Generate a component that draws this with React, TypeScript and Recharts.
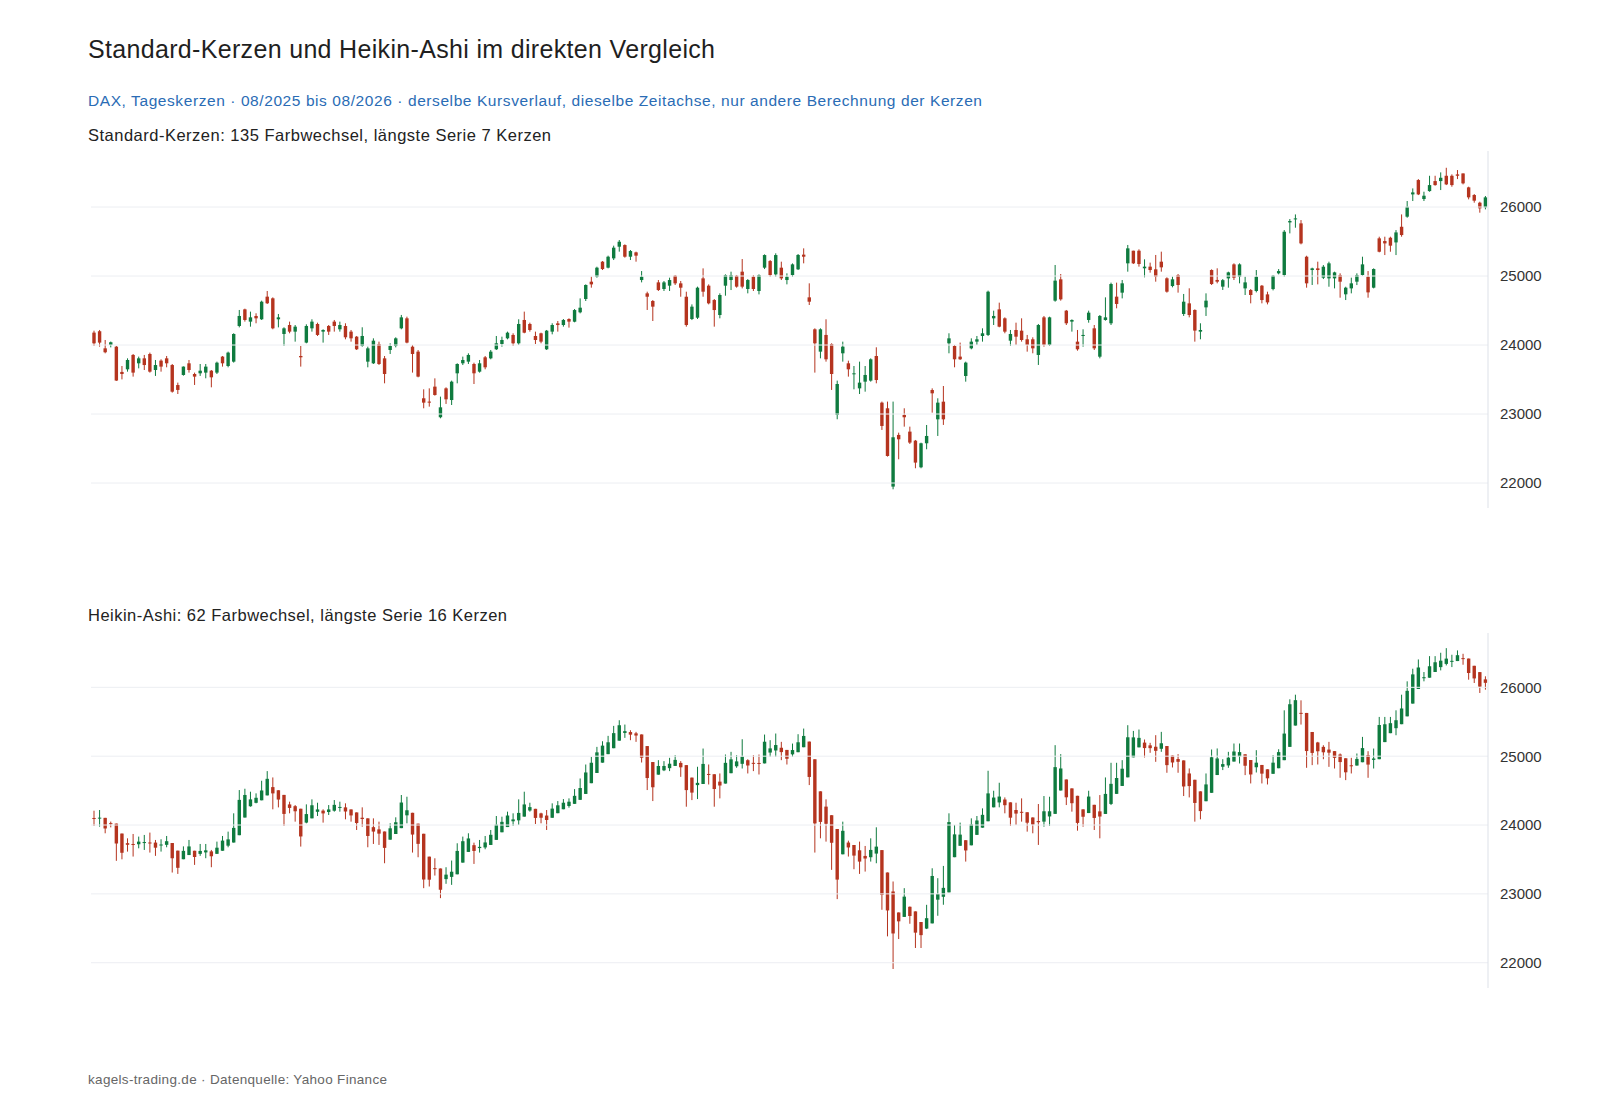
import React from "react";
import { ComposedChart, Bar, XAxis, YAxis, ReferenceLine } from "recharts";

// DAX daily candles, 08/2025 - 08/2026
const OPEN = [
  24180, 24200, 23952, 24001, 23976, 23610, 23648, 23856, 23735, 23807, 23870, 23638, 23774, 23807, 23710, 23420, 23566, 23735, 23580, 23590,
  23600, 23628, 23600, 23832, 23696, 23759, 24276, 24517, 24339, 24421, 24373, 24701, 24677, 24373, 24160, 24290, 24194, 23841, 24035, 24242,
  24305, 24194, 24276, 24339, 24228, 24276, 24194, 24121, 23986, 23759, 23735, 24015, 23807, 23928, 23986, 24242, 24387, 23976, 23904, 23228,
  23180, 23397, 22953, 23372, 23203, 23590, 23735, 23759, 23725, 23614, 23822, 23807, 23938, 24015, 24097, 24146, 24025, 24363, 24305, 24131,
  24170, 23938, 24194, 24314, 24290, 24377, 24338, 24474, 24667, 24918, 24990, 25208, 25121, 25256, 25425, 25449, 25280, 25343, 24942, 24749,
  24638, 24908, 24812, 24860, 25005, 24894, 24700, 24377, 24396, 24966, 24860, 24652, 24435, 24860, 24942, 25005, 25063, 24812, 24990, 24783,
  25121, 25217, 25024, 25121, 24942, 25014, 25097, 25310, 24691, 24228, 23904, 24146, 24015, 22986, 23880, 23735, 23580, 23372, 23469, 23484,
  23841, 23165, 23083, 21948, 22697, 22987, 22745, 22614, 22228, 22576, 23348, 22923, 23179, 24025, 23986, 23832, 23551, 23952, 24049, 24131,
  24146, 24387, 24517, 24387, 24063, 24218, 24208, 24083, 24083, 23856, 24401, 24001, 24643, 24952, 24498, 24339, 24049, 24131, 24363, 24242,
  23831, 24363, 24315, 24701, 24759, 25184, 25367, 25367, 25112, 25136, 25097, 25208, 24967, 24855, 25015, 24450, 24604, 24508, 24194, 24546,
  25087, 24943, 24846, 24966, 25169, 24990, 24821, 24797, 24783, 24860, 24734, 24811, 25039, 25015, 25777, 25826, 25763, 25280, 25087, 25111,
  24976, 24966, 24966, 25015, 24735, 24821, 24918, 25015, 24990, 24831, 25546, 25507, 25555, 25487, 25714, 25860, 26183, 26391, 26116, 26231,
  26376, 26376, 26453, 26453, 26473, 26487, 26285, 26174, 26063, 25995,
];
const HIGH = [
  24208, 24218, 24073, 24050, 23986, 23696, 23807, 23870, 23832, 23856, 23890, 23783, 23793, 23841, 23725, 23455, 23690, 23783, 23600, 23725,
  23725, 23638, 23759, 23841, 23904, 24170, 24508, 24527, 24484, 24460, 24643, 24783, 24691, 24450, 24257, 24339, 24290, 23986, 24300, 24373,
  24324, 24228, 24290, 24363, 24339, 24315, 24218, 24131, 24257, 23976, 24097, 24049, 23841, 24025, 24112, 24436, 24411, 24001, 23928, 23358,
  23372, 23517, 23252, 23387, 23484, 23735, 23832, 23880, 23744, 23783, 23841, 23928, 24131, 24121, 24194, 24170, 24373, 24484, 24324, 24194,
  24179, 24218, 24315, 24348, 24377, 24387, 24522, 24676, 24879, 24990, 25135, 25217, 25295, 25440, 25522, 25459, 25377, 25353, 25072, 24773,
  24652, 24942, 24928, 24976, 25015, 24928, 24773, 24589, 24846, 25111, 24879, 24667, 24749, 25024, 25063, 25015, 25246, 24956, 25014, 25024,
  25314, 25232, 25329, 25208, 25039, 25183, 25319, 25401, 24894, 24242, 24242, 24373, 24025, 23484, 24049, 23773, 23696, 23759, 23696, 23807,
  23967, 23180, 23180, 23180, 22730, 23083, 22817, 22624, 22585, 22841, 23372, 23228, 23406, 24170, 24001, 24035, 23759, 24097, 24131, 24242,
  24788, 24498, 24614, 24401, 24218, 24324, 24387, 24146, 24112, 24305, 24421, 24411, 25160, 25029, 24508, 24372, 24218, 24228, 24498, 24290,
  24435, 24691, 24904, 24904, 24942, 25450, 25367, 25387, 25242, 25194, 25305, 25353, 24981, 24991, 25029, 24740, 24822, 24517, 24315, 24749,
  25097, 25112, 24956, 25063, 25184, 25184, 24990, 24811, 25087, 24870, 24773, 25015, 25101, 25666, 25826, 25893, 25811, 25294, 25121, 25208,
  25159, 25208, 25063, 25039, 24845, 24976, 25039, 25280, 25072, 25111, 25570, 25570, 25570, 25666, 25893, 26087, 26270, 26405, 26222, 26453,
  26453, 26502, 26569, 26473, 26536, 26487, 26295, 26188, 26077, 26160,
];
const LOW = [
  23986, 23976, 23880, 23966, 23480, 23502, 23614, 23542, 23662, 23638, 23600, 23552, 23614, 23677, 23310, 23290, 23556, 23600, 23421, 23552,
  23518, 23387, 23580, 23687, 23677, 23745, 24256, 24339, 24266, 24315, 24363, 24595, 24228, 24256, 23986, 24170, 24049, 23687, 24025, 24194,
  24131, 24035, 24146, 24194, 24194, 24083, 24049, 23928, 23976, 23677, 23725, 23711, 23445, 23870, 23966, 24228, 24025, 23600, 23532, 23083,
  23107, 23266, 22938, 23146, 23131, 23445, 23710, 23725, 23435, 23600, 23648, 23793, 23928, 23976, 24083, 23986, 24001, 24170, 24194, 24015,
  24025, 23928, 24155, 24194, 24266, 24252, 24329, 24459, 24638, 24831, 24976, 25087, 25111, 25232, 25353, 25266, 25232, 25208, 24908, 24508,
  24348, 24783, 24783, 24783, 24870, 24700, 24266, 24362, 24377, 24700, 24589, 24266, 24387, 24715, 24797, 24831, 24821, 24749, 24783, 24734,
  25101, 24990, 24990, 24942, 24879, 24990, 25087, 25184, 24580, 23600, 23807, 23759, 23349, 22924, 23759, 23542, 23358, 23290, 23324, 23469,
  23445, 22769, 22383, 21909, 22344, 22817, 22566, 22214, 22214, 22489, 23020, 22682, 22842, 23880, 23677, 23783, 23469, 23938, 24001, 24049,
  24131, 24290, 24257, 24170, 23986, 24001, 24049, 23904, 23880, 23711, 23976, 23986, 24628, 24643, 24290, 24194, 23918, 23976, 24324, 23928,
  23807, 24353, 24290, 24532, 24676, 25063, 25174, 25136, 24981, 25049, 24918, 25063, 24759, 24836, 24759, 24421, 24401, 24049, 24083, 24421,
  24870, 24894, 24798, 24831, 24942, 24894, 24725, 24604, 24763, 24604, 24589, 24792, 25024, 24990, 25618, 25700, 25459, 24831, 24870, 24879,
  24956, 24845, 24821, 24686, 24652, 24749, 24869, 25005, 24686, 24821, 25343, 25304, 25352, 25304, 25570, 25845, 26087, 26173, 26087, 26222,
  26309, 26246, 26318, 26294, 26405, 26328, 26111, 26063, 25918, 25966,
];
const CLOSE = [
  24025, 24035, 23895, 24040, 23485, 23580, 23783, 23600, 23807, 23710, 23614, 23710, 23687, 23735, 23324, 23349, 23687, 23638, 23542, 23628,
  23687, 23532, 23744, 23735, 23890, 24160, 24421, 24363, 24401, 24387, 24628, 24605, 24242, 24401, 24242, 24194, 24266, 23822, 24276, 24339,
  24146, 24218, 24194, 24276, 24290, 24112, 24097, 23938, 24131, 23952, 24063, 23725, 23580, 23986, 24097, 24401, 24035, 23870, 23542, 23165,
  23165, 23276, 23097, 23213, 23469, 23725, 23783, 23856, 23590, 23735, 23677, 23904, 24025, 24073, 24179, 24025, 24305, 24179, 24218, 24073,
  24049, 24208, 24290, 24290, 24363, 24339, 24507, 24541, 24870, 24879, 25121, 25101, 25280, 25411, 25497, 25280, 25362, 25295, 24990, 24700,
  24556, 24797, 24908, 24942, 24894, 24831, 24290, 24556, 24831, 24773, 24604, 24507, 24725, 25014, 25014, 24846, 24846, 24942, 24812, 25014,
  25304, 25014, 25304, 24966, 24990, 25169, 25305, 25280, 24628, 24025, 24228, 23793, 23580, 23435, 23976, 23648, 23590, 23455, 23566, 23793,
  23493, 22827, 22392, 22663, 22634, 22953, 22586, 22296, 22576, 22682, 23300, 23165, 22923, 24097, 23793, 23793, 23745, 24049, 24083, 24170,
  24773, 24421, 24266, 24194, 24160, 24121, 24073, 24001, 23952, 24290, 24001, 24401, 24933, 24662, 24315, 24363, 23938, 24146, 24469, 23952,
  24421, 24401, 24884, 24595, 24894, 25401, 25184, 25174, 25136, 25087, 24991, 25126, 24773, 24952, 24870, 24628, 24435, 24209, 24218, 24643,
  24884, 24918, 24940, 25053, 24976, 25169, 24908, 24725, 24990, 24652, 24618, 25005, 25072, 25642, 25797, 25835, 25473, 24894, 25111, 25087,
  25135, 25184, 25053, 24918, 24831, 24894, 25015, 25169, 24763, 25101, 25352, 25473, 25440, 25632, 25594, 26004, 26212, 26183, 26164, 26318,
  26318, 26424, 26328, 26318, 26453, 26343, 26140, 26092, 25981, 26140,
];

const Y_TICKS = [22000, 23000, 24000, 25000, 26000];

const UP = "#0f7b3f";
const DOWN = "#b5341f";
const FONT = "'Liberation Sans', Arial, Helvetica, sans-serif";

type Row = { i: number; o: number; h: number; l: number; c: number; range: [number, number] };

const standardRows: Row[] = OPEN.map((o, i) => ({
  i,
  o,
  h: HIGH[i],
  l: LOW[i],
  c: CLOSE[i],
  range: [LOW[i], HIGH[i]],
}));

// Heikin-Ashi is derived from the same candles (that is what the chart compares)
const heikinRows: Row[] = [];
standardRows.forEach((r, i) => {
  const c = (r.o + r.h + r.l + r.c) / 4;
  const o = i === 0 ? (r.o + r.c) / 2 : (heikinRows[i - 1].o + heikinRows[i - 1].c) / 2;
  const h = Math.max(r.h, o, c);
  const l = Math.min(r.l, o, c);
  heikinRows.push({ i, o, h, l, c, range: [l, h] });
});

function Candle(props: any) {
  const { x, y, width, height, payload } = props;
  if (!payload) return null;
  const { o, h, l, c } = payload as Row;
  const top = Math.min(y, y + height);
  const span = Math.abs(height);
  const toY = (v: number) => (h === l ? top : top + ((h - v) / (h - l)) * span);
  const cx = x + width / 2;
  const color = c >= o ? UP : DOWN;
  const bodyTop = Math.min(toY(o), toY(c));
  const bodyH = Math.max(1, Math.abs(toY(o) - toY(c)));
  const bw = 3.4;
  return (
    <g>
      <line x1={cx} x2={cx} y1={top} y2={top + span} stroke={color} strokeWidth={1} />
      <rect x={cx - bw / 2} y={bodyTop} width={bw} height={bodyH} fill={color} />
    </g>
  );
}

function CandlePanel({ rows, domain, height }: { rows: Row[]; domain: [number, number]; height: number }) {
  return (
    <ComposedChart
      width={1600}
      height={height}
      data={rows}
      margin={{ top: 0, right: 0, bottom: 0, left: 91 }}
      barCategoryGap={0}
    >
      <XAxis dataKey="i" hide />
      <YAxis
        orientation="right"
        width={112}
        domain={domain}
        ticks={Y_TICKS}
        allowDataOverflow
        axisLine={{ stroke: "#dde1e8" }}
        tickLine={false}
        tickMargin={6}
        tick={{ fontSize: 15, fill: "#333", fontFamily: FONT }}
      />
      {Y_TICKS.map((t) => (
        <ReferenceLine key={t} y={t} stroke="#eceef2" strokeWidth={1} />
      ))}
      <Bar dataKey="range" shape={<Candle />} isAnimationActive={false} />
    </ComposedChart>
  );
}

export default function App() {
  return (
    <div style={{ position: "absolute", left: 0, top: 0, width: 1600, height: 1117, background: "#fff" }}>
      <svg width={1600} height={1117} style={{ position: "absolute", left: 0, top: 0 }}>
        <g fontFamily={FONT}>
          <text x={88} y={58} fontSize={25} fill="#1f1f1f" textLength={627} lengthAdjust="spacing">
            Standard-Kerzen und Heikin-Ashi im direkten Vergleich
          </text>
          <text x={88} y={106} fontSize={15.5} fill="#2a6cb5" textLength={894} lengthAdjust="spacing">
            DAX, Tageskerzen · 08/2025 bis 08/2026 · derselbe Kursverlauf, dieselbe Zeitachse, nur andere Berechnung der Kerzen
          </text>
          <text x={88} y={141} fontSize={16.5} fill="#222" textLength={463} lengthAdjust="spacing">
            Standard-Kerzen: 135 Farbwechsel, längste Serie 7 Kerzen
          </text>
          <text x={88} y={621} fontSize={16.5} fill="#222" textLength={419} lengthAdjust="spacing">
            Heikin-Ashi: 62 Farbwechsel, längste Serie 16 Kerzen
          </text>
          <text x={88} y={1084} fontSize={13.5} fill="#666" textLength={299} lengthAdjust="spacing">
            kagels-trading.de · Datenquelle: Yahoo Finance
          </text>
        </g>
      </svg>
      <div style={{ position: "absolute", left: 0, top: 151 }}>
        <CandlePanel rows={standardRows} domain={[21638, 26812]} height={357} />
      </div>
      <div style={{ position: "absolute", left: 0, top: 633 }}>
        <CandlePanel rows={heikinRows} domain={[21633, 26789]} height={355} />
      </div>
    </div>
  );
}
